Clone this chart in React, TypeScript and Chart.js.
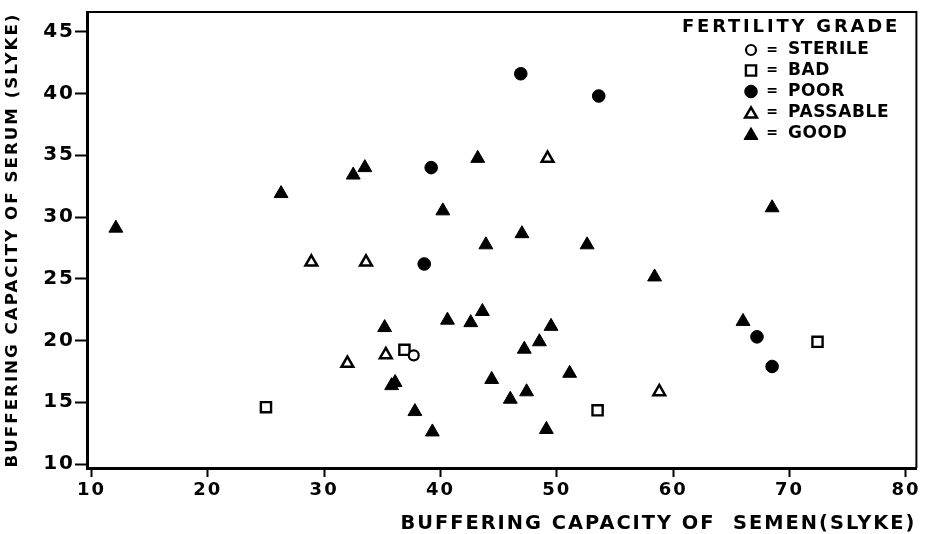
import React, { useEffect, useRef } from 'react';
import { Chart, registerables } from 'chart.js';

Chart.register(...registerables);

// ---- data ----
const xTicks = [10, 20, 30, 40, 50, 60, 70, 80];
const yTicks = [10, 15, 20, 25, 30, 35, 40, 45];
const gradeLabels = ['STERILE', 'BAD', 'POOR', 'PASSABLE', 'GOOD'];
const legendTitle = 'FERTILITY GRADE';
const xTitle = 'BUFFERING CAPACITY OF  SEMEN(SLYKE)';
const yTitle = 'BUFFERING CAPACITY OF SERUM (SLYKE)';

const sterileX = [37.7];
const sterileY = [18.8];
const badX = [25.0, 36.9, 53.5, 72.4];
const badY = [14.6, 19.25, 14.35, 19.9];
const poorX = [46.9, 53.6, 39.2, 38.6, 67.2, 68.5];
const poorY = [41.6, 39.8, 34.0, 26.2, 20.3, 17.9];
const passableX = [28.9, 33.6, 49.2, 32.0, 35.3, 58.8];
const passableY = [26.35, 26.35, 34.75, 18.15, 18.85, 15.85];
const goodX = [12.1, 26.3, 32.5, 33.5, 40.2, 43.2, 47.0, 43.9, 52.6, 68.5, 58.4, 43.6, 42.6, 49.5, 48.5, 47.2, 66.0, 44.4, 51.1, 47.4, 46.0, 49.1, 40.6, 35.2, 35.8, 36.1, 37.8, 39.3];
const goodY = [29.1, 31.9, 33.4, 34.0, 30.5, 34.75, 28.65, 27.75, 27.75, 30.75, 25.15, 22.35, 21.45, 21.15, 19.9, 19.3, 21.55, 16.85, 17.35, 15.85, 15.25, 12.8, 21.65, 21.05, 16.35, 16.6, 14.25, 12.6];

const FONT = '"DejaVu Sans", sans-serif';

const toPoints = (xs: number[], ys: number[]) => xs.map((x, i) => ({ x, y: ys[i] }));

type MarkerSpec = { style: string; radius: number; filled: boolean; border: number };
const markers: MarkerSpec[] = [
  { style: 'circle', radius: 5, filled: false, border: 2.2 },
  { style: 'rect', radius: 7.2, filled: false, border: 2.4 },
  { style: 'circle', radius: 6.3, filled: true, border: 1 },
  { style: 'triangle', radius: 6.8, filled: false, border: 2.5 },
  { style: 'triangle', radius: 8, filled: true, border: 1 },
];

function drawMarker(ctx: CanvasRenderingContext2D, m: MarkerSpec, x: number, y: number) {
  ctx.beginPath();
  if (m.style === 'circle') {
    ctx.arc(x, y, m.radius, 0, Math.PI * 2);
  } else if (m.style === 'rect') {
    const s = Math.SQRT1_2 * m.radius;
    ctx.rect(x - s, y - s, 2 * s, 2 * s);
  } else {
    let rad = 0;
    for (let i = 0; i < 3; i++) {
      const px = x + Math.sin(rad) * m.radius;
      const py = y - Math.cos(rad) * m.radius;
      if (i === 0) ctx.moveTo(px, py);
      else ctx.lineTo(px, py);
      rad += (2 * Math.PI) / 3;
    }
    ctx.closePath();
  }
  ctx.fillStyle = m.filled ? '#000' : '#fff';
  ctx.fill();
  ctx.lineWidth = m.border;
  ctx.strokeStyle = '#000';
  ctx.stroke();
}

const spacingPlugin = {
  id: 'letterSpacing',
  beforeUpdate(chart: any) {
    (chart.ctx as any).letterSpacing = '2px';
  },
  beforeDraw(chart: any) {
    (chart.ctx as any).letterSpacing = '2px';
  },
};

const framePlugin = {
  id: 'frame',
  afterDraw(chart: any) {
    const { ctx, chartArea } = chart;
    ctx.save();
    ctx.strokeStyle = '#000';
    ctx.lineWidth = 2;
    ctx.beginPath();
    ctx.moveTo(chartArea.left, chartArea.top);
    ctx.lineTo(chartArea.right, chartArea.top);
    ctx.lineTo(chartArea.right, chartArea.bottom);
    ctx.stroke();
    ctx.restore();
  },
};

const legendPlugin = {
  id: 'gradeLegend',
  afterDraw(chart: any) {
    const ctx: CanvasRenderingContext2D = chart.ctx;
    ctx.save();
    ctx.fillStyle = '#000';
    ctx.textBaseline = 'middle';
    ctx.textAlign = 'left';
    (ctx as any).letterSpacing = '2.8px';
    ctx.font = `bold 18px ${FONT}`;
    ctx.fillText(legendTitle, 682, 27);
    const rows = [50, 70.5, 91.5, 112.5, 133.5];
    gradeLabels.forEach((lab, i) => {
      const y = rows[i];
      const m = markers[i];
      const dy = m.style === 'triangle' ? m.radius / 4 : 0;
      drawMarker(ctx, m, 751, y + dy);
      ctx.fillStyle = '#000';
      (ctx as any).letterSpacing = '0px';
      ctx.font = `bold 14px ${FONT}`;
      ctx.textAlign = 'center';
      ctx.fillText('=', 772, y);
      (ctx as any).letterSpacing = '0.6px';
      ctx.font = `bold 17px ${FONT}`;
      ctx.textAlign = 'left';
      ctx.fillText(lab, 788, y);
    });
    ctx.restore();
  },
};

export default function App() {
  const ref = useRef<HTMLCanvasElement | null>(null);

  useEffect(() => {
    if (!ref.current) return;
    const series = [
      toPoints(sterileX, sterileY),
      toPoints(badX, badY),
      toPoints(poorX, poorY),
      toPoints(passableX, passableY),
      toPoints(goodX, goodY),
    ];
    const datasets = series.map((data, i) => ({
      label: gradeLabels[i],
      data,
      pointStyle: markers[i].style,
      pointRadius: markers[i].radius,
      pointBorderWidth: markers[i].border,
      pointBackgroundColor: markers[i].filled ? '#000' : '#fff',
      pointBorderColor: '#000',
      showLine: false,
    }));

    const chart = new Chart(ref.current, {
      type: 'scatter',
      data: { datasets },
      plugins: [spacingPlugin, framePlugin, legendPlugin],
      options: {
        animation: false,
        responsive: false,
        events: [],
        layout: { padding: { top: 8, right: 8, left: 0, bottom: 0 } },
        plugins: {
          legend: { display: false },
          tooltip: { enabled: false },
        },
        scales: {
          x: {
            type: 'linear',
            min: 9.62,
            max: 80.9,
            afterBuildTicks: (s: any) => {
              s.ticks = xTicks.map((v) => ({ value: v }));
            },
            afterFit: (s: any) => {
              s.height = 66;
            },
            grid: {
              drawOnChartArea: false,
              drawTicks: true,
              tickLength: 9,
              tickWidth: 2,
              tickColor: '#000',
              color: '#000',
            },
            border: { display: true, color: '#000', width: 3 },
            ticks: {
              color: '#000',
              padding: 3,
              maxRotation: 0,
              autoSkip: false,
              font: { family: FONT, size: 18, weight: 'bold' },
            },
            title: {
              display: true,
              text: xTitle,
              align: 'end',
              color: '#000',
              padding: { top: 0, bottom: 0 },
              font: { family: FONT, size: 19.4, weight: 'bold', lineHeight: 1 },
            },
          },
          y: {
            type: 'linear',
            min: 9.68,
            max: 46.6,
            afterBuildTicks: (s: any) => {
              s.ticks = yTicks.map((v) => ({ value: v }));
            },
            afterFit: (s: any) => {
              s.width = 87;
            },
            grid: {
              drawOnChartArea: false,
              drawTicks: true,
              tickLength: 12,
              tickWidth: 2,
              tickColor: '#000',
              color: '#000',
            },
            border: { display: true, color: '#000', width: 3 },
            ticks: {
              color: '#000',
              padding: 0,
              autoSkip: false,
              font: { family: FONT, size: 20, weight: 'bold' },
            },
            title: {
              display: true,
              text: yTitle,
              align: 'center',
              color: '#000',
              padding: { top: 3, bottom: 0 },
              font: { family: FONT, size: 16.7, weight: 'bold' },
            },
          },
        },
      } as any,
    });
    return () => chart.destroy();
  }, []);

  return (
    <div style={{ position: 'absolute', left: 0, top: 0, width: 926, height: 534, background: '#fff' }}>
      <canvas ref={ref} width={926} height={534} style={{ width: 926, height: 534, display: 'block' }} />
    </div>
  );
}
